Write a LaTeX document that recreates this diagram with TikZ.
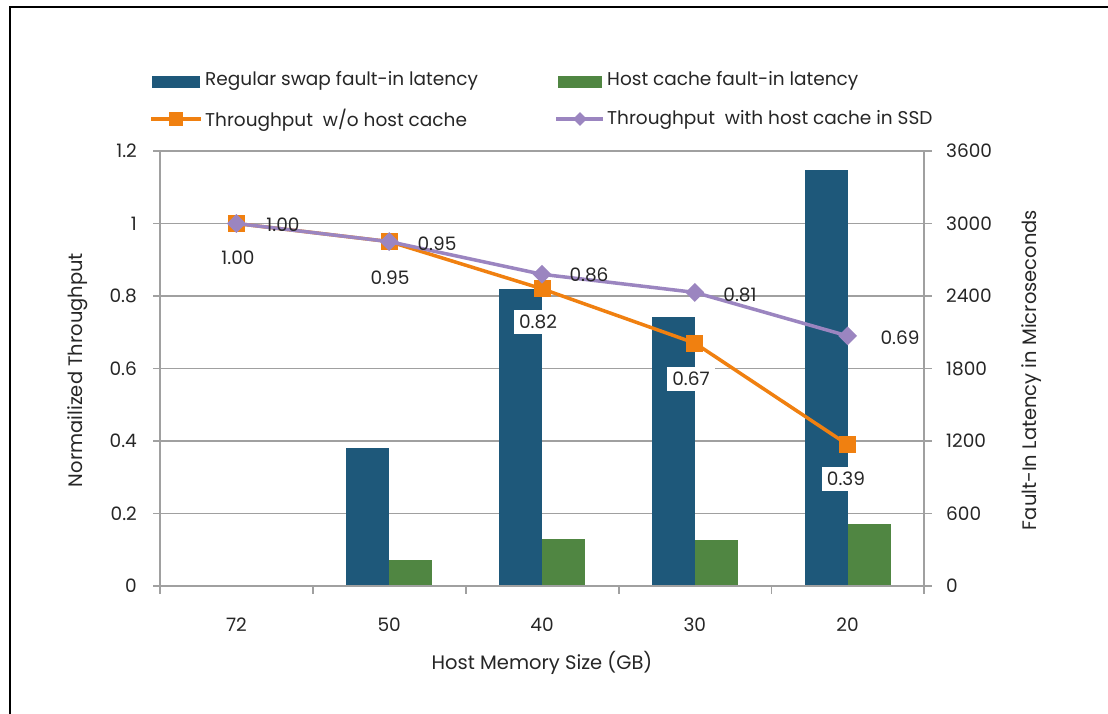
\documentclass[tikz,border=0pt]{standalone}
\usepackage{fontspec}
\setmainfont{Poppins}
\usetikzlibrary{shapes.geometric}
\definecolor{barblue}{RGB}{30,88,122}
\definecolor{bargreen}{RGB}{80,134,66}
\definecolor{lorange}{RGB}{240,128,16}
\definecolor{lpurple}{RGB}{155,133,192}
\definecolor{gridgray}{RGB}{160,160,160}
\begin{document}
\begin{tikzpicture}[x=1pt,y=-1pt,
  every node/.style={font=\fontsize{18.5}{21}\selectfont, text=black!85},
  titlefont/.style={font=\fontsize{19.5}{22}\selectfont},
  gridline/.style={draw=gridgray, line width=1.3pt},
  bluebar/.style={fill=barblue, draw=none},
  greenbar/.style={fill=bargreen, draw=none},
  oline/.style={draw=lorange, line width=3.5pt},
  pline/.style={draw=lpurple, line width=3.5pt},
  sqmark/.style={rectangle, fill=lorange, draw=none, minimum size=17pt, inner sep=0pt},
  dmmark/.style={diamond, fill=lpurple, draw=none, minimum size=19pt, inner sep=0pt},
  sqlegend/.style={rectangle, fill=lorange, draw=none, minimum size=14pt, inner sep=0pt},
  dmlegend/.style={diamond, fill=lpurple, draw=none, minimum size=14pt, inner sep=0pt},
  olabel/.style={fill=white, inner sep=5pt},
  plabel/.style={inner sep=1pt},
  ticklab/.style={inner sep=0pt}]
\useasboundingbox (0,0) rectangle (1108,714);
\fill[white] (0,0) rectangle (1108,714);
% frame
\draw[line width=2.6pt, black] (10,720) -- (10,7) -- (1115,7);

% gridlines and ticks
\foreach \yy in {151,223.5,296,368.5,441,513.5}
  \draw[gridline] (153,\yy) -- (932,\yy);

% bars
\foreach \cx/\bt/\gt in {389.2/448.3/560, 542/288.8/538.9, 694.8/316.5/540, 847.6/170.3/524.4}{
  \fill[bluebar] (\cx-43,586) rectangle (\cx,\bt);
  \fill[greenbar] (\cx,586) rectangle (\cx+43,\gt);
}

% axes
\draw[gridline] (160,151) -- (160,594);
\draw[gridline] (924,151) -- (924,594);
\draw[gridline] (153,586) -- (932,586);
\foreach \xx in {313,466,619,771.6}
  \draw[gridline] (\xx,586) -- (\xx,594);

% left tick labels
\foreach \yy/\lab in {586/0,513.5/0.2,441/0.4,368.5/0.6,296/0.8,223.5/1,151/1.2}
  \node[ticklab, anchor=east] (l\lab) at (137,\yy) {\lab};
% right tick labels
\foreach \yy/\lab in {586/0,513.5/600,441/1200,368.5/1800,296/2400,223.5/3000,151/3600}
  \node[ticklab, anchor=west] (r\lab) at (946,\yy) {\lab};
% x labels
\foreach \cx/\lab in {236.4/72,389.2/50,542/40,694.8/30,847.6/20}
  \node (x\lab) at (\cx,625) {\lab};

% axis titles
\node[rotate=90, titlefont] (ytitle) at (78,370) {Normailized Throughput};
\node[rotate=90, titlefont] (y2title) at (1032,370) {Fault-In Latency in Microseconds};
\node[titlefont] (xtitle) at (542,663) {Host Memory Size (GB)};

% series coordinates
\coordinate (o1) at (236.4,223.5);
\coordinate (o2) at (389.2,241.6);
\coordinate (o3) at (542,288.8);
\coordinate (o4) at (694.8,343.1);
\coordinate (o5) at (847.6,444.6);
\coordinate (p1) at (236.4,223.5);
\coordinate (p2) at (389.2,241.6);
\coordinate (p3) at (542,274.3);
\coordinate (p4) at (694.8,292.4);
\coordinate (p5) at (847.6,335.9);

\draw[oline] (o1) -- (o2) -- (o3) -- (o4) -- (o5);
\foreach \i in {1,...,5} \node[sqmark] (om\i) at (o\i) {};
\draw[pline] (p1) -- (p2) -- (p3) -- (p4) -- (p5);
\foreach \i in {1,...,5} \node[dmmark] (pm\i) at (p\i) {};

% data labels
\node[olabel] (ol1) at (238,258) {1.00};
\node[olabel] (ol2) at (390,278) {0.95};
\node[olabel] (ol3) at (538,322) {0.82};
\node[olabel] (ol4) at (691,379) {0.67};
\node[olabel] (ol5) at (846,479) {0.39};
\node[plabel] (pl1) at (283,225) {1.00};
\node[plabel] (pl2) at (437,244) {0.95};
\node[plabel] (pl3) at (589,275) {0.86};
\node[plabel] (pl4) at (740,295) {0.81};
\node[plabel] (pl5) at (900,338) {0.69};

% legend
\fill[bluebar] (152,76) rectangle (200,88);
\node[anchor=west, inner sep=0pt] (leg1) at (205,81) {Regular swap fault-in latency};
\fill[greenbar] (558,76) rectangle (602,88);
\node[anchor=west, inner sep=0pt] (leg2) at (607,81) {Host cache fault-in latency};
\coordinate (la) at (151,119);
\coordinate (lb) at (201,119);
\draw[oline] (la) -- (lb);
\node[sqlegend] (lsq) at (176,119) {};
\node[anchor=west, inner sep=0pt] (leg3) at (205,120) {Throughput\ \ w/o host cache};
\coordinate (lc) at (556,119);
\coordinate (ld) at (603,119);
\draw[pline] (lc) -- (ld);
\node[dmlegend] (ldm) at (580,119) {};
\node[anchor=west, inner sep=0pt] (leg4) at (607,120) {Throughput\ \ with host cache in SSD};
\end{tikzpicture}
\end{document}
